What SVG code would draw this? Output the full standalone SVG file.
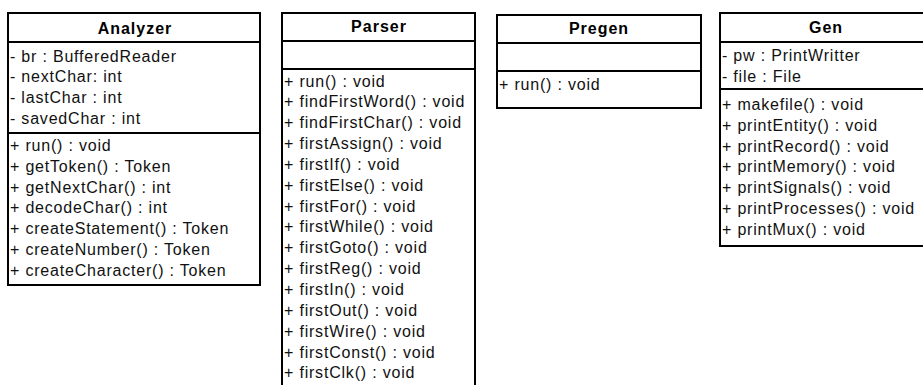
<svg xmlns="http://www.w3.org/2000/svg" width="923" height="385" viewBox="0 0 923 385">
  <style>
    .box { fill: #ffffff; stroke: #000000; stroke-width: 2; }
    .sep { stroke: #000000; stroke-width: 2; fill: none; }
    .title { font-family: "Liberation Sans", Arial, sans-serif; font-size: 16px; font-weight: bold; letter-spacing: 1px; text-anchor: middle; fill: #000000; }
    .row { font-family: "Liberation Sans", Arial, sans-serif; font-size: 16px; letter-spacing: 0.8px; fill: #111111; }
  </style>
  <rect width="923" height="385" fill="#ffffff"/>

  <!-- Analyzer class -->
  <g id="analyzer">
    <rect class="box" x="8" y="13" width="252" height="272"/>
    <line class="sep" x1="8" y1="42" x2="260" y2="42"/>
    <line class="sep" x1="8" y1="133" x2="260" y2="133"/>
    <text class="title" x="135" y="33.5">Analyzer</text>
    <text class="row" x="10" y="61.5">- br : BufferedReader</text>
    <text class="row" x="10" y="82.3">- nextChar: int</text>
    <text class="row" x="10" y="103.1">- lastChar : int</text>
    <text class="row" x="10" y="123.9">- savedChar : int</text>
    <text class="row" x="10" y="151">+ run() : void</text>
    <text class="row" x="10" y="171.8">+ getToken() : Token</text>
    <text class="row" x="10" y="192.6">+ getNextChar() : int</text>
    <text class="row" x="10" y="213.4">+ decodeChar() : int</text>
    <text class="row" x="10" y="234.2">+ createStatement() : Token</text>
    <text class="row" x="10" y="255">+ createNumber() : Token</text>
    <text class="row" x="10" y="275.8">+ createCharacter() : Token</text>
  </g>

  <!-- Parser class (runs past the bottom edge) -->
  <g id="parser">
    <rect class="box" x="282" y="13" width="193" height="390"/>
    <line class="sep" x1="282" y1="41" x2="475" y2="41"/>
    <line class="sep" x1="282" y1="69" x2="475" y2="69"/>
    <text class="title" x="379" y="32">Parser</text>
    <text class="row" x="284" y="86.5">+ run() : void</text>
    <text class="row" x="284" y="107.35">+ findFirstWord() : void</text>
    <text class="row" x="284" y="128.2">+ findFirstChar() : void</text>
    <text class="row" x="284" y="149.05">+ firstAssign() : void</text>
    <text class="row" x="284" y="169.9">+ firstIf() : void</text>
    <text class="row" x="284" y="190.75">+ firstElse() : void</text>
    <text class="row" x="284" y="211.6">+ firstFor() : void</text>
    <text class="row" x="284" y="232.45">+ firstWhile() : void</text>
    <text class="row" x="284" y="253.3">+ firstGoto() : void</text>
    <text class="row" x="284" y="274.15">+ firstReg() : void</text>
    <text class="row" x="284" y="295">+ firstIn() : void</text>
    <text class="row" x="284" y="315.85">+ firstOut() : void</text>
    <text class="row" x="284" y="336.7">+ firstWire() : void</text>
    <text class="row" x="284" y="357.55">+ firstConst() : void</text>
    <text class="row" x="284" y="378.4">+ firstClk() : void</text>
  </g>

  <!-- Pregen class -->
  <g id="pregen">
    <rect class="box" x="497" y="15" width="204" height="93"/>
    <line class="sep" x1="497" y1="43" x2="701" y2="43"/>
    <line class="sep" x1="497" y1="71" x2="701" y2="71"/>
    <text class="title" x="599" y="34.3">Pregen</text>
    <text class="row" x="499" y="90">+ run() : void</text>
  </g>

  <!-- Gen class (runs past the right edge) -->
  <g id="gen">
    <rect class="box" x="720" y="13" width="212" height="233"/>
    <line class="sep" x1="720" y1="42" x2="932" y2="42"/>
    <line class="sep" x1="720" y1="89" x2="932" y2="89"/>
    <text class="title" x="826" y="33.3">Gen</text>
    <text class="row" x="722" y="61">- pw : PrintWritter</text>
    <text class="row" x="722" y="82">- file : File</text>
    <text class="row" x="722" y="110">+ makefile() : void</text>
    <text class="row" x="722" y="130.8">+ printEntity() : void</text>
    <text class="row" x="722" y="151.6">+ printRecord() : void</text>
    <text class="row" x="722" y="172.4">+ printMemory() : void</text>
    <text class="row" x="722" y="193.2">+ printSignals() : void</text>
    <text class="row" x="722" y="214">+ printProcesses() : void</text>
    <text class="row" x="722" y="234.8">+ printMux() : void</text>
  </g>

  <!-- no associations are drawn between the classes -->
  <g id="connectors"/>
</svg>
